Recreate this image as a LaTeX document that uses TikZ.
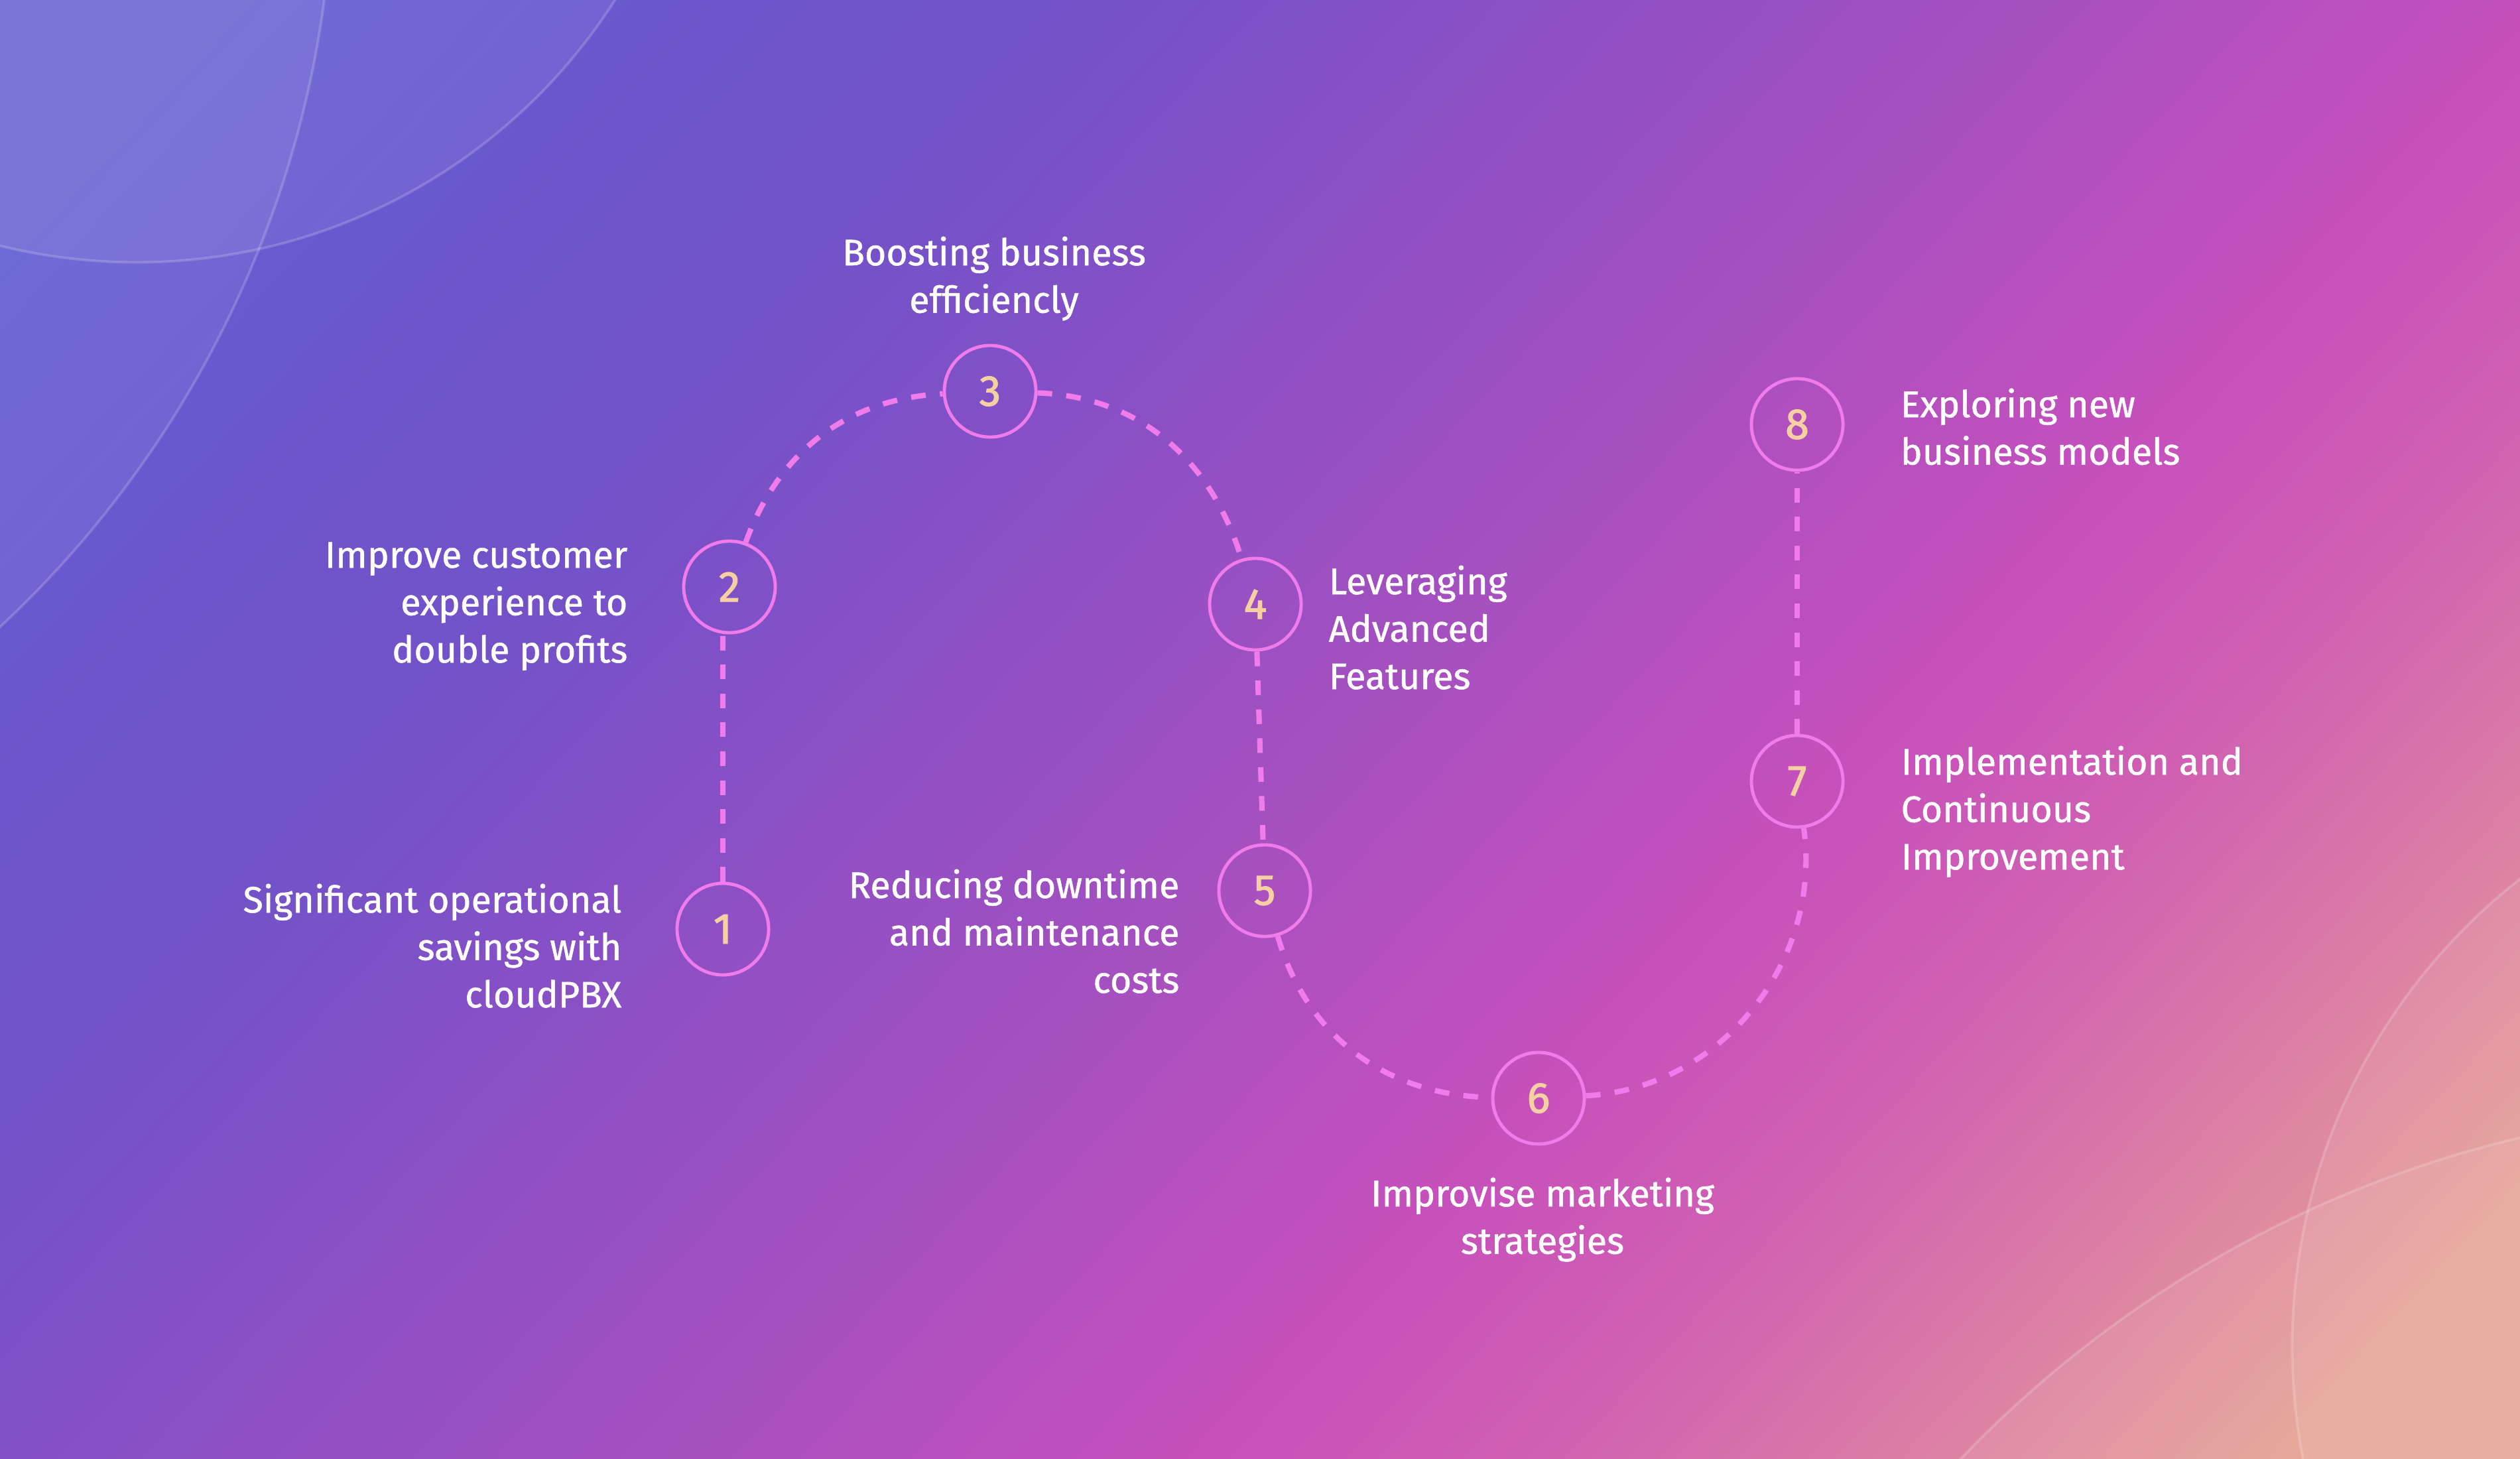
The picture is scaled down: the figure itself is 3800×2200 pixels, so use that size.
\documentclass[tikz,border=0pt]{standalone}
\usepackage{fontspec}
\setmainfont{Fira Sans}
\newfontfamily\labfont{Fira Sans}[FakeBold=0.9]
\newfontfamily\numfont{Fira Sans}[FakeBold=1.8]
\definecolor{linepink}{HTML}{F07BEA}
\definecolor{digit}{HTML}{F4D0A2}
\definecolor{g0}{HTML}{6460D2}
\definecolor{g1}{HTML}{6C55CC}
\definecolor{g2}{HTML}{7452C8}
\definecolor{g3}{HTML}{8650C6}
\definecolor{g4}{HTML}{A050C0}
\definecolor{g5}{HTML}{C650BC}
\definecolor{g6}{HTML}{D060B2}
\definecolor{g7}{HTML}{DA7CA6}
\definecolor{g8}{HTML}{E6A294}
\pgfdeclarehorizontalshading{bgshade}{100bp}{color(0bp)=(g0); color(18.75bp)=(g0); color(28.1bp)=(g1); color(35bp)=(g2); color(40.6bp)=(g3); color(50bp)=(g4); color(61.25bp)=(g5); color(67.5bp)=(g6); color(73.75bp)=(g7); color(81.25bp)=(g8); color(100bp)=(g8)}
\newcommand\steptext[2]{\begin{tabular}[t]{@{}#1@{}}#2\end{tabular}}
\begin{document}
\begin{tikzpicture}[x=0.01cm, y=-0.01cm,
  conn/.style={draw=linepink, line width=2.3pt, dash pattern=on 6.3pt off 6.1pt},
  num/.style={circle, draw=linepink, line width=1.4pt, minimum size=1.38cm, inner sep=0pt, text=digit, font=\numfont\fontsize{18.5}{20}\selectfont},
  lbl/.style={inner sep=0pt, text=white, font=\labfont\fontsize{15.8}{20.34}\selectfont},
  deco/.style={fill=white, fill opacity=0.07, draw=white, draw opacity=0.18, line width=1.1pt}]
\useasboundingbox (0,0) rectangle (3800,2200);
\shade[shading=bgshade, shading angle=-43] (0,0) rectangle (3800,2200);
\begin{scope}
  \clip (0,0) rectangle (3800,2200);
  \path[deco] (206,-460) circle[radius=8.55cm];
  \path[deco] (-1078,-211) circle[radius=15.8cm];
  \path[deco] (4351,2030) circle[radius=8.94cm];
  \path[deco] (4198,3386) circle[radius=17.16cm];
\end{scope}

\node[num] (n1) at (1090,1401) {1};
\node[num] (n2) at (1100,885) {2};
\node[num] (n3) at (1493,590) {3};
\node[num] (n4) at (1893,911) {4};
\node[num] (n5) at (1907,1343) {5};
\node[num] (n6) at (2320,1656) {6};
\node[num] (n7) at (2710,1178) {7};
\node[num] (n8) at (2710,640) {8};

\draw[conn] (n1.north) -- (n1.north |- n2.south);
\draw[conn] (n2) to[out=70, in=183] (n3);
\draw[conn] (n3) to[out=-2, in=107] (n4);
\draw[conn] (n4) -- (n5);
\draw[conn] (n5) to[out=-74, in=179] (n6);
\draw[conn] (n6) to[out=3, in=-82] (n7);
\draw[conn] (n7) -- (n8);

\node[lbl, anchor=base east] (t1) at (938,1376) {\steptext{r}{Significant operational\\savings with\\cloudPBX}};
\node[lbl, anchor=base east] (t2) at (947,856) {\steptext{r}{Improve customer\\experience to\\double profits}};
\node[lbl, anchor=base] (t3) at (1499,400) {\steptext{c}{Boosting business\\efficiencly}};
\node[lbl, anchor=base west] (t4) at (2003,896) {\steptext{l}{Leveraging\\Advanced\\Features}};
\node[lbl, anchor=base east] (t5) at (1779,1354) {\steptext{r}{Reducing downtime\\and maintenance\\costs}};
\node[lbl, anchor=base] (t6) at (2326,1819) {\steptext{c}{Improvise marketing\\strategies}};
\node[lbl, anchor=base west] (t7) at (2866,1168) {\steptext{l}{Implementation and\\Continuous\\Improvement}};
\node[lbl, anchor=base west] (t8) at (2865,629) {\steptext{l}{Exploring new\\business models}};
\end{tikzpicture}
\end{document}
